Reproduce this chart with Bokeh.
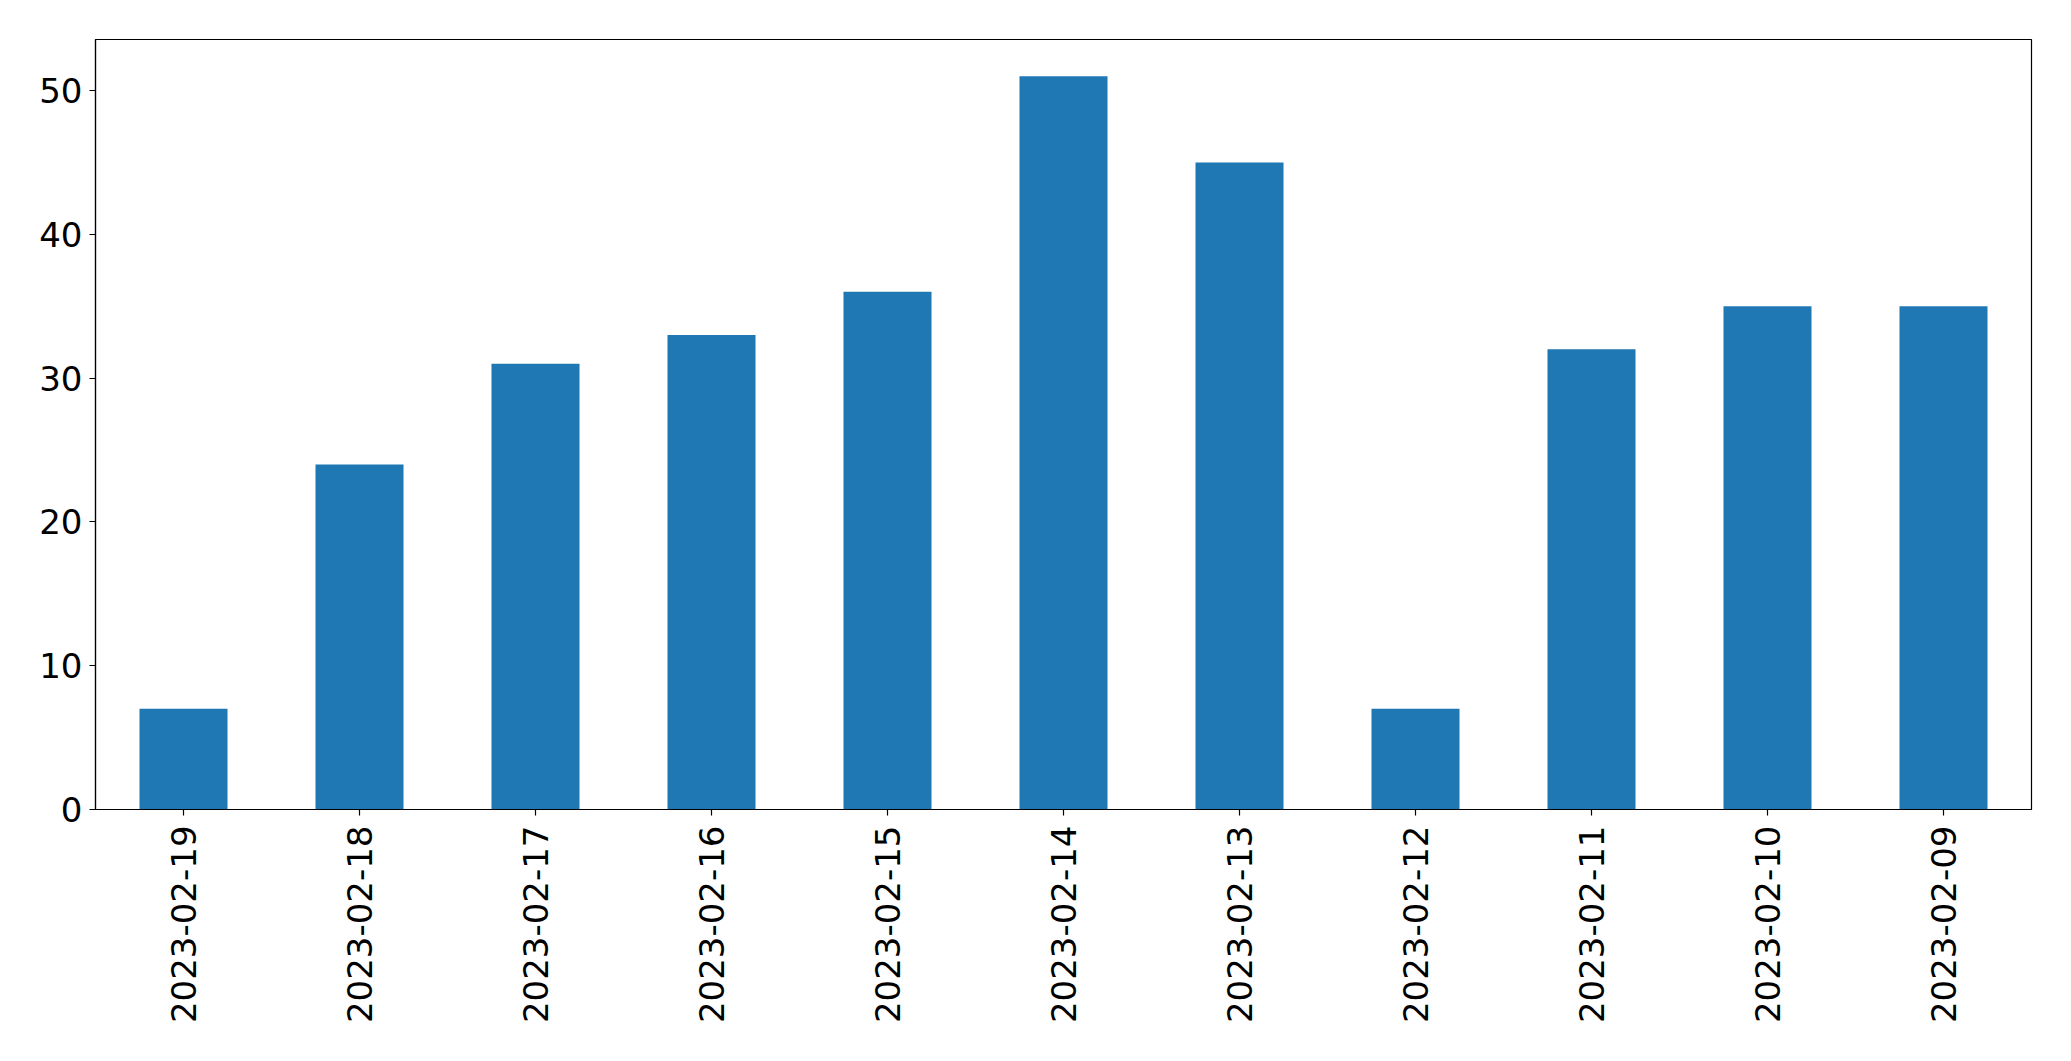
import math
from bokeh.plotting import figure
from bokeh.models import FactorRange, Range1d, FixedTicker
from bokeh.embed import file_html
from bokeh.resources import INLINE

dates = ["2023-02-19", "2023-02-18", "2023-02-17", "2023-02-16", "2023-02-15",
         "2023-02-14", "2023-02-13", "2023-02-12", "2023-02-11", "2023-02-10",
         "2023-02-09"]
counts = [7, 24, 31, 33, 36, 51, 45, 7, 32, 35, 35]
y_ticks = [0, 10, 20, 30, 40, 50]

p = figure(width=2055, height=1045, output_backend="svg", toolbar_location=None,
           x_range=FactorRange(factors=dates, range_padding=0),
           y_range=Range1d(0, max(counts) * 1.05))
p.min_border_left = 95
p.min_border_right = 24
p.min_border_top = 39
p.min_border_bottom = 236
p.outline_line_color = "black"
p.outline_line_width = 1.2
p.xgrid.visible = False
p.ygrid.visible = False
p.background_fill_color = "white"
p.border_fill_color = "white"

p.vbar(x=dates, top=counts, width=0.5, color="#1f77b4", line_color=None)

for ax in (p.xaxis[0], p.yaxis[0]):
    ax.major_label_text_font = "DejaVu Sans"
    ax.major_label_text_font_size = "34px"
    ax.major_label_text_color = "black"
    ax.axis_line_color = "black"
    ax.axis_line_width = 1.2
    ax.major_tick_line_color = "black"
    ax.major_tick_line_width = 1.2
    ax.major_tick_out = 6
    ax.major_tick_in = 0
    ax.minor_tick_line_color = None

p.yaxis.ticker = FixedTicker(ticks=y_ticks)
p.yaxis.major_label_standoff = 7
p.xaxis.major_label_standoff = 10
p.xaxis.major_label_orientation = math.pi / 2

open("out.html", "w").write(file_html(p, INLINE))
